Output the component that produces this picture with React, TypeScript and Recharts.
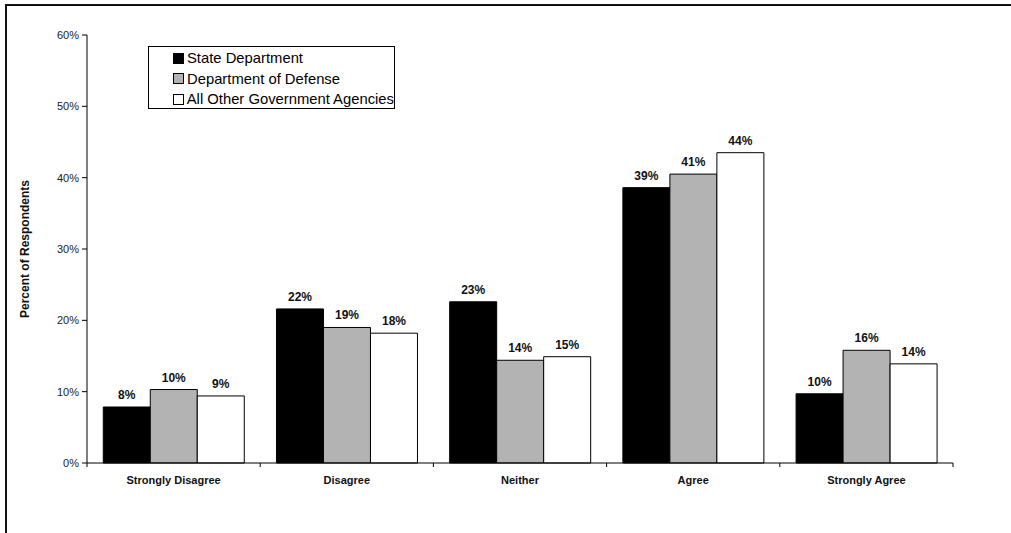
import { BarChart, Bar, XAxis, YAxis, LabelList, Legend } from "recharts"

const categories = ["Strongly Disagree", "Disagree", "Neither", "Agree", "Strongly Agree"]
const stateDept = [7.85, 21.6, 22.6, 38.6, 9.7]
const defenseDept = [10.3, 19.0, 14.4, 40.5, 15.8]
const otherAgencies = [9.4, 18.2, 14.9, 43.5, 13.9]
const yTicks = [0, 10, 20, 30, 40, 50, 60]

const series = [
  { key: "state", name: "State Department", fill: "#000000" },
  { key: "defense", name: "Department of Defense", fill: "#b3b3b3" },
  { key: "other", name: "All Other Government Agencies", fill: "#ffffff" },
]

const data = categories.map((c, i) => ({
  cat: c,
  state: stateDept[i],
  defense: defenseDept[i],
  other: otherAgencies[i],
}))

const W = 1011
const H = 533
const margin = { top: 35, right: 58, left: 0, bottom: 40 }
const yAxisWidth = 87
const bandWidth = (W - margin.left - margin.right - yAxisWidth) / categories.length

const font = "'Liberation Sans', Arial, sans-serif"

function CatTick(props: any) {
  const { x, y, payload, index } = props
  const left = x - bandWidth / 2
  const right = x + bandWidth / 2
  return (
    <g>
      <line x1={left} y1={y} x2={left} y2={y + 4} stroke="#000" />
      {index === categories.length - 1 && <line x1={right} y1={y} x2={right} y2={y + 4} stroke="#000" />}
      <text x={x} y={y + 21} textAnchor="middle" fontSize={11} fontWeight="bold" fontFamily={font} fill="#111">
        {payload.value}
      </text>
    </g>
  )
}

function LegendBox() {
  return (
    <div
      style={{
        border: "1px solid #000",
        background: "#fff",
        width: 247,
        height: 63,
        boxSizing: "border-box",
        paddingLeft: 24,
        paddingTop: 1,
        fontFamily: font,
        fontSize: 14.8,
        color: "#000",
        textAlign: "left",
      }}
    >
      {series.map((s) => (
        <div key={s.key} style={{ display: "flex", alignItems: "center", height: 20.5, whiteSpace: "nowrap" }}>
          <span
            style={{
              display: "inline-block",
              width: 9,
              height: 9,
              background: s.fill,
              border: "1px solid #000",
              marginRight: 3,
            }}
          />
          <span>{s.name}</span>
        </div>
      ))}
    </div>
  )
}

export default function App() {
  return (
    <div style={{ position: "absolute", left: 0, top: 0, width: W, height: H, overflow: "hidden", background: "#fff" }}>
      <div
        style={{
          position: "absolute",
          left: 5,
          top: 4,
          width: 1200,
          height: 700,
          borderLeft: "2px solid #111",
          borderTop: "2px solid #111",
        }}
      />
      <div style={{ position: "absolute", left: 0, top: 0 }}>
        <BarChart width={W} height={H} data={data} margin={margin} barCategoryGap="9.4%" barGap={0}>
          <XAxis
            dataKey="cat"
            axisLine={{ stroke: "#000" }}
            tickLine={false}
            tickSize={0}
            tickMargin={0}
            height={30}
            interval={0}
            tick={<CatTick />}
          />
          <YAxis
            width={yAxisWidth}
            domain={[0, 60]}
            ticks={yTicks}
            interval={0}
            tickFormatter={(v: number) => `${v}%`}
            axisLine={{ stroke: "#000" }}
            tickLine={{ stroke: "#000" }}
            tickSize={5}
            tickMargin={3}
            tick={{ fontSize: 11, fill: "#222", fontFamily: font }}
            label={{
              value: "Percent of Respondents",
              angle: -90,
              position: "insideLeft",
              offset: 25,
              style: { textAnchor: "middle", fontSize: 12, fontWeight: "bold", fontFamily: font, fill: "#111" },
            }}
          />
          <Legend
            layout="horizontal"
            verticalAlign="middle"
            align="center"
            content={() => <LegendBox />}
            wrapperStyle={{ position: "absolute", left: 148, top: 46, width: 247, height: 63 }}
          />
          {series.map((s) => (
            <Bar key={s.key} dataKey={s.key} name={s.name} fill={s.fill} stroke="#000" strokeWidth={1} isAnimationActive={false}>
              <LabelList
                dataKey={s.key}
                position="top"
                offset={8}
                formatter={(v: any) => `${Math.round(Number(v))}%`}
                style={{ fontSize: 12, fontWeight: "bold", fontFamily: font, fill: "#111" }}
              />
            </Bar>
          ))}
        </BarChart>
      </div>
    </div>
  )
}
